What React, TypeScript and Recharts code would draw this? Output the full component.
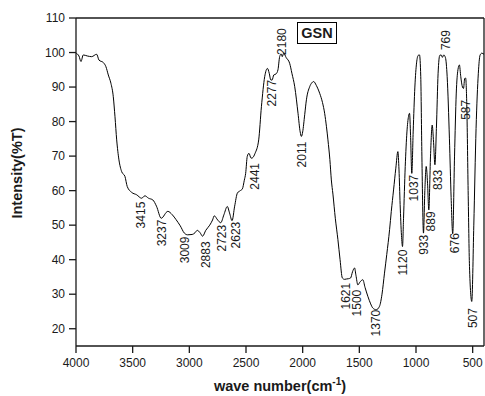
import {
  ComposedChart,
  Line,
  Scatter,
  XAxis,
  YAxis,
  ReferenceLine,
  Label,
} from "recharts";

// FTIR transmittance spectrum of GSN.
const FONT = "'Liberation Sans', Arial, sans-serif";
const INK = "#1a1a1a";

const wavenumbers = [
  4000, 3974, 3956, 3936, 3900, 3862, 3818, 3797, 3759, 3736, 3715, 3692, 3671,
  3656, 3641, 3621, 3597, 3568, 3548, 3509, 3465, 3421, 3392, 3360, 3322, 3290,
  3248, 3190, 3150, 3117, 3080, 3044, 3015, 2975, 2950, 2930, 2905, 2883, 2855,
  2820, 2795, 2780, 2750, 2723, 2695, 2665, 2645, 2623, 2600, 2576, 2550, 2532,
  2515, 2503, 2489, 2474, 2455, 2443, 2420, 2388, 2364, 2335, 2311, 2295, 2282,
  2270, 2255, 2235, 2218, 2203, 2190, 2180, 2168, 2145, 2115, 2095, 2070, 2041,
  2022, 2011, 2000, 1982, 1967, 1938, 1920, 1903, 1880, 1850, 1825, 1806, 1790,
  1777, 1760, 1747, 1733, 1712, 1689, 1670, 1650, 1630, 1615, 1595, 1577, 1560,
  1542, 1530, 1513, 1495, 1469, 1450, 1425, 1400, 1381, 1351, 1322, 1300, 1278,
  1258, 1233, 1218, 1198, 1178, 1160, 1150, 1140, 1128, 1119, 1110, 1095, 1080,
  1066, 1057, 1048, 1037, 1025, 1010, 995, 980, 969, 958, 948, 934, 922, 910,
  898, 887, 872, 857, 845, 833, 820, 805, 790, 778, 767, 755, 740, 725, 705,
  690, 676, 660, 645, 630, 617, 605, 590, 581, 570, 562, 552, 540, 528, 508,
  490, 470, 450, 435, 420, 400,
];

const transmittance = [
  99.8, 99.0, 97.4, 99.3, 99.0, 98.8, 99.5, 97.8, 97.1, 95.9, 93.5, 91.1, 87.2,
  81.4, 74.7, 68.9, 65.5, 64.1, 61.2, 59.5, 58.8, 57.8, 58.5, 57.8, 57.3, 55.5,
  52.0, 54.0, 53.0, 51.6, 49.8, 47.7, 47.2, 47.3, 47.8, 48.5, 47.8, 46.8, 48.5,
  50.0, 51.5, 52.7, 51.5, 50.7, 53.0, 55.4, 53.5, 51.3, 55.5, 59.3, 60.0, 60.5,
  63.0, 65.0, 69.9, 70.8, 69.4, 69.5, 70.8, 74.7, 84.3, 93.0, 95.4, 94.0, 92.1,
  92.0, 93.5, 93.8, 95.0, 98.8, 99.6, 98.8, 99.8, 98.5, 96.9, 94.0, 90.1, 82.4,
  77.0, 75.7, 77.0, 82.0, 86.3, 90.1, 91.2, 91.6, 90.5, 88.2, 85.5, 82.4, 78.5,
  74.7, 69.0, 63.1, 59.0, 52.0, 45.8, 40.0, 34.7, 34.3, 34.4, 34.5, 34.7, 36.5,
  37.6, 35.5, 32.7, 33.5, 34.2, 32.0, 29.4, 27.2, 26.0, 25.5, 26.5, 30.0, 36.1,
  41.5, 48.7, 54.0, 60.2, 66.5, 71.3, 66.0, 56.0, 47.0, 43.8, 52.0, 67.0, 77.0,
  81.5, 82.4, 76.0, 65.0, 77.0, 90.0, 97.0, 99.2, 99.3, 93.0, 70.0, 47.7, 60.0,
  67.0, 62.0, 54.4, 70.0, 79.0, 74.0, 67.5, 78.0, 94.0, 99.2, 99.3, 98.6, 99.3,
  98.5, 93.0, 75.0, 58.0, 47.5, 70.0, 88.0, 95.0, 96.4, 93.0, 90.0, 89.6, 92.5,
  92.6, 85.0, 60.0, 38.0, 27.9, 50.0, 78.0, 94.0, 99.2, 99.8, 99.5,
];

// peak annotations: text, anchor point (wavenumber, %T), and whether the text runs up from the anchor
const peakText = [
  "3415", "3237", "3009", "2883", "2723", "2623", "2441", "2277", "2180", "2011",
  "1621", "1500", "1370", "1120", "1037", "933", "889", "833", "769", "676",
  "587", "507",
];
const peakWn = [
  3427, 3245, 3040, 2855, 2716, 2593, 2423, 2269, 2188, 2011, 1621, 1524, 1351,
  1119, 1019, 931, 866, 808, 734, 661, 558, 500,
];
const peakT = [
  56.8, 51.6, 46.7, 45.3, 50.1, 51.0, 68.0, 92.1, 99.3, 74.2, 33.3, 31.3, 25.5,
  42.9, 64.6, 47.2, 54.0, 66.0, 100.7, 47.7, 86.3, 26.0,
];
const peakUp = [
  false, false, false, false, false, false, false, false, true, false, false,
  false, false, false, false, false, false, false, true, false, false, false,
];

const xTicks = [4000, 3500, 3000, 2500, 2000, 1500, 1000, 500];
const yTicks = [20, 30, 40, 50, 60, 70, 80, 90, 100, 110];

const spectrum = wavenumbers.map((wn, i) => ({ wn, t: transmittance[i] }));
const peaks = peakText.map((text, i) => ({
  wn: peakWn[i],
  t: peakT[i],
  text,
  up: peakUp[i],
}));

function PeakLabel(props: any) {
  const { cx, cy, payload } = props;
  if (cx == null || cy == null) return null;
  return (
    <text
      x={cx}
      y={cy}
      dy="0.35em"
      transform={`rotate(-90 ${cx} ${cy})`}
      textAnchor={payload.up ? "start" : "end"}
      fontSize={12}
      fontFamily={FONT}
      fill={INK}
    >
      {payload.text}
    </text>
  );
}

function XTitle(props: any) {
  const { viewBox } = props;
  const x = viewBox.x + viewBox.width / 2;
  const y = viewBox.y + 45;
  return (
    <text
      x={x}
      y={y}
      textAnchor="middle"
      fontSize={14.5}
      fontWeight="bold"
      fontFamily={FONT}
      fill={INK}
    >
      wave number(cm
      <tspan dy={-6} fontSize={10}>
        -1
      </tspan>
      <tspan dy={6}>)</tspan>
    </text>
  );
}

function YTitle(props: any) {
  const { viewBox } = props;
  const x = 22;
  const y = viewBox.y + viewBox.height / 2 - 9;
  return (
    <text
      x={x}
      y={y}
      transform={`rotate(-90 ${x} ${y})`}
      textAnchor="middle"
      fontSize={14.5}
      fontWeight="bold"
      fontFamily={FONT}
      fill={INK}
    >
      Intensity(%T)
    </text>
  );
}

export default function App() {
  const tick = { fontSize: 12, fill: INK, fontFamily: FONT };
  return (
    <div style={{ position: "absolute", left: 0, top: 0, width: 485, height: 396, background: "#fff" }}>
      <ComposedChart
        width={485}
        height={396}
        data={spectrum}
        margin={{ top: 18, right: 1, bottom: 0, left: 0 }}
      >
        <XAxis
          dataKey="wn"
          type="number"
          domain={[400, 4000]}
          reversed
          allowDataOverflow
          ticks={xTicks}
          height={50}
          tick={tick}
          tickSize={7}
          tickMargin={5}
          stroke={INK}
          strokeWidth={1.3}
        >
          <Label content={XTitle} />
        </XAxis>
        <YAxis
          dataKey="t"
          type="number"
          domain={[15, 110]}
          allowDataOverflow
          ticks={yTicks}
          width={76}
          tick={tick}
          tickSize={7}
          tickMargin={4}
          stroke={INK}
          strokeWidth={1.3}
        >
          <Label content={YTitle} />
        </YAxis>
        <ReferenceLine y={110} stroke={INK} strokeWidth={1.3} />
        <ReferenceLine x={400} stroke={INK} strokeWidth={1.3} />
        <Line
          dataKey="t"
          type="monotone"
          stroke="#000"
          strokeWidth={1}
          dot={false}
          isAnimationActive={false}
        />
        <Scatter
          data={peaks}
          dataKey="t"
          shape={PeakLabel}
          isAnimationActive={false}
        />
      </ComposedChart>
      <div
        style={{
          position: "absolute",
          left: 297,
          top: 22,
          width: 40,
          height: 22,
          border: "1px solid #000",
          boxSizing: "border-box",
          fontFamily: FONT,
          fontWeight: "bold",
          fontSize: 14.5,
          lineHeight: "20px",
          textAlign: "center",
          color: INK,
        }}
      >
        GSN
      </div>
    </div>
  );
}
